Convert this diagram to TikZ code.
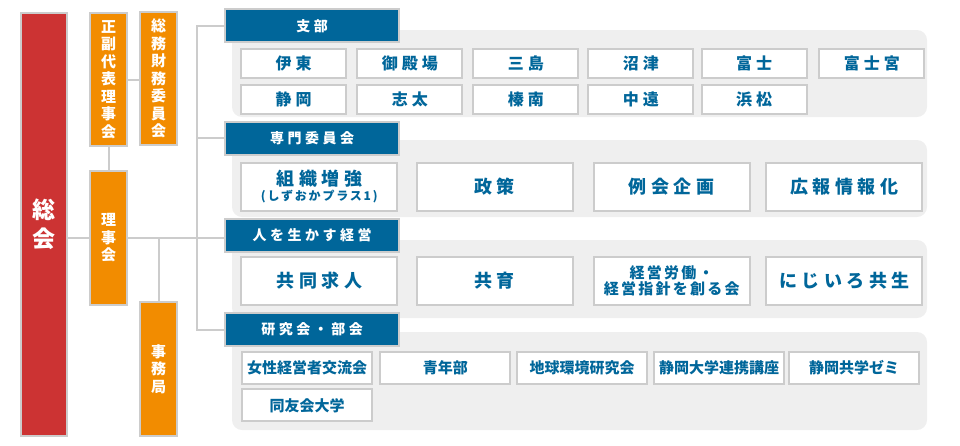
\documentclass[tikz,border=0pt]{standalone}
\usepackage{fontspec}
\setmainfont{Noto Sans CJK JP}
\newfontfamily\jpsp{Noto Sans CJK JP}[LetterSpace=25]
\newfontfamily\jpsm{Noto Sans CJK JP}[LetterSpace=15]
\definecolor{sokai}{HTML}{CC3333}
\definecolor{riji}{HTML}{F28C00}
\definecolor{shibu}{HTML}{00669A}
\definecolor{waku}{HTML}{CCCCCC}
\definecolor{haikei}{HTML}{EFEFEF}

\begin{document}
\begin{tikzpicture}[x=1pt,y=-1pt,
  every node/.style={inner sep=0pt, align=center},
  conn/.style={draw=waku, line width=2pt},
  tatebox/.style={draw=waku, line width=2pt, fill=riji, text=white, font=\bfseries\fontsize{15}{17.5}\selectfont, minimum width=37, minimum height=133},
  midashi/.style={draw=waku, line width=2pt, fill=shibu, text=white, font=\jpsp\bfseries\fontsize{14}{16}\selectfont, minimum width=174, minimum height=33},
  panel/.style={fill=haikei, rounded corners=10pt},
  kobox/.style={draw=waku, line width=2pt, fill=white, text=shibu, font=\jpsp\bfseries\fontsize{16}{18}\selectfont, minimum width=105, minimum height=29},
  ookibox/.style={draw=waku, line width=2pt, fill=white, text=shibu, font=\jpsp\bfseries\fontsize{18}{20}\selectfont, minimum width=156, minimum height=48},
  kenbox/.style={draw=waku, line width=2pt, fill=white, text=shibu, font=\bfseries\fontsize{15}{17}\selectfont, minimum width=130, minimum height=32}]
\useasboundingbox (0,0) rectangle (960,445);

%Panels
\fill[panel] (232,30) rectangle (927,117);
\fill[panel] (232,140) rectangle (927,217);
\fill[panel] (232,240) rectangle (927,318);
\fill[panel] (232,332) rectangle (927,430);

%Left column
\node[draw=waku, line width=2pt, fill=sokai, text=white, font=\bfseries\fontsize{23}{29}\selectfont, minimum width=46, minimum height=423] (sokai) at (44,224.5) {総\\会};
\node[tatebox] (seifuku) at (108.5,79.5) {正\\副\\代\\表\\理\\事\\会};
\node[tatebox] (somu) at (158.5,78.5) {総\\務\\財\\務\\委\\員\\会};
\node[tatebox, minimum height=134] (rijikai) at (108.5,238) {理\\事\\会};
\node[tatebox, minimum height=134] (jimukyoku) at (158.5,369) {事\\務\\局};
\coordinate (trunk) at (197,0);

% Headers
\node[midashi] (shibuhd) at (312,25.8) {支部};
\node[midashi] (senmonhd) at (312,138.3) {専門委員会};
\node[midashi] (jinzaihd) at (312,235.5) {人を生かす経営};
\node[midashi] (kenkyuhd) at (312,329.5) {研究会・部会};

% 支部
\node[kobox] (ito) at (293.5,63.8) {伊東};
\node[kobox] (gotemba) at (409.8,63.8) {御殿場};
\node[kobox] (mishima) at (525.8,63.8) {三島};
\node[kobox] (numazu) at (640.8,63.8) {沼津};
\node[kobox] (fuji) at (754.2,63.8) {富士};
\node[kobox] (fujinomiya) at (871.8,63.8) {富士宮};
\node[kobox] (shizuoka) at (293.5,99.7) {静岡};
\node[kobox] (shida) at (409.8,99.7) {志太};
\node[kobox] (hainan) at (525.8,99.7) {榛南};
\node[kobox] (chuen) at (640.8,99.7) {中遠};
\node[kobox] (hamamatsu) at (754.2,99.7) {浜松};

% 専門委員会
\node[ookibox] (soshiki) at (319.3,186.7) {組織増強\\[-5pt]{\jpsm\fontsize{12}{13}\selectfont (しずおかプラス1)}};
\node[ookibox] (seisaku) at (494.7,186.7) {政策};
\node[ookibox] (reikai) at (671.7,186.7) {例会企画};
\node[ookibox] (koho) at (844.3,186.7) {広報情報化};

% 人を生かす経営
\node[ookibox] (kyodo) at (319.3,280.8) {共同求人};
\node[ookibox] (kyoiku) at (494.7,280.8) {共育};
\node[ookibox, font=\jpsm\bfseries\fontsize{15}{15.5}\selectfont] (keiei) at (671.7,280.8) {経営労働・\\経営指針を創る会};
\node[ookibox] (nijiiro) at (844.3,280.8) {にじいろ共生};

% 研究会・部会
\node[kenbox] (josei) at (307.2,367.5) {女性経営者交流会};
\node[kenbox] (seinen) at (445.3,367.5) {青年部};
\node[kenbox] (chikyu) at (582,367.5) {地球環境研究会};
\node[kenbox] (daigaku) at (719,367.5) {静岡大学連携講座};
\node[kenbox] (kyogaku) at (854.2,367.5) {静岡共学ゼミ};
\node[kenbox] (doyukai) at (307.2,405.3) {同友会大学};

% Connections
\draw[conn] (sokai.east |- rijikai) -- (rijikai);
\draw[conn] (seifuku) -- (somu.west |- seifuku);
\draw[conn] (seifuku) -- (rijikai);
\draw[conn] (rijikai.east) -- (jinzaihd.west |- rijikai);
\draw[conn] (jimukyoku.north) -- (jimukyoku.north |- rijikai);
\draw[conn] (shibuhd.west) -- (shibuhd.west -| trunk) -- (kenkyuhd.west -| trunk) -- (kenkyuhd.west);
\draw[conn] (senmonhd.west) -- (senmonhd.west -| trunk);
\end{tikzpicture}
\end{document}
